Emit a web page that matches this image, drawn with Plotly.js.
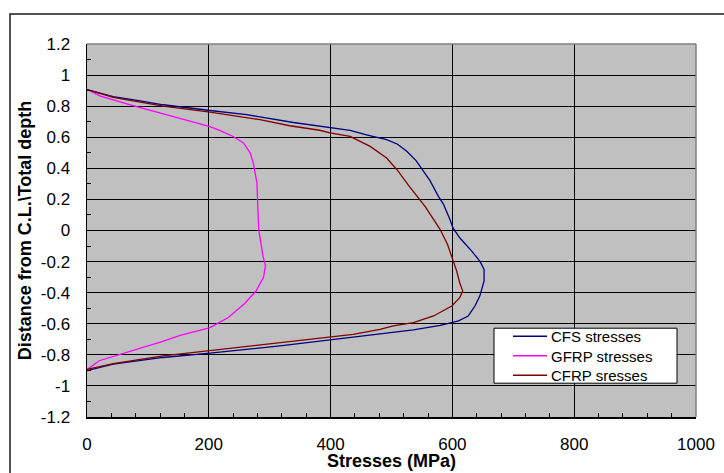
<!DOCTYPE html>
<html>
<head>
<meta charset="utf-8">
<script src="https://cdn.plot.ly/plotly-3.0.1.min.js"></script>
<style>
  html, body { margin: 0; padding: 0; background: #ffffff; }
  #chart { width: 724px; height: 473px; }
</style>
</head>
<body>
<div id="chart"></div>
<script>
// ---- Data ----
const seriesNames = ["CFS stresses", "GFRP stresses", "CFRP sresses"];

const cfsStress = [0, 43, 85, 125, 202, 262, 339, 399, 432, 459, 492, 510, 525, 540, 552, 563, 577, 585, 596, 601, 612, 631, 645, 652, 652, 645, 637, 626, 610, 599, 580, 536, 481, 399, 317, 202, 125, 43, 0];
const cfsDepth  = [0.907, 0.862, 0.835, 0.809, 0.772, 0.745, 0.695, 0.663, 0.644, 0.616, 0.584, 0.555, 0.51, 0.451, 0.385, 0.322, 0.22, 0.172, 0.071, 0.017, -0.047, -0.129, -0.197, -0.25, -0.325, -0.422, -0.486, -0.55, -0.582, -0.593, -0.61, -0.64, -0.667, -0.706, -0.743, -0.789, -0.817, -0.86, -0.902];

const gfrpStress = [0, 21, 71, 142, 202, 218, 240, 257, 268, 273, 279, 281, 282, 289, 293, 290, 278, 259, 251, 232, 202, 153, 123, 98, 55, 20, 0];
const gfrpDepth  = [0.909, 0.866, 0.809, 0.734, 0.669, 0.644, 0.605, 0.563, 0.499, 0.435, 0.306, 0.1, 0.006, -0.165, -0.226, -0.3, -0.387, -0.47, -0.496, -0.56, -0.625, -0.675, -0.715, -0.745, -0.795, -0.838, -0.895];

const cfrpStress = [0, 43, 125, 202, 284, 333, 382, 399, 432, 465, 492, 509, 528, 547, 556, 569, 580, 592, 600, 607, 612, 617, 612, 599, 569, 536, 503, 481, 437, 399, 317, 202, 125, 43, 0];
const cfrpDepth  = [0.907, 0.856, 0.8, 0.762, 0.713, 0.674, 0.645, 0.628, 0.606, 0.541, 0.466, 0.391, 0.29, 0.199, 0.15, 0.071, 0.006, -0.09, -0.186, -0.26, -0.336, -0.39, -0.432, -0.486, -0.55, -0.593, -0.614, -0.636, -0.668, -0.685, -0.721, -0.775, -0.807, -0.856, -0.894];

const seriesColors = ["#000080", "#ff00ff", "#800000"];

const xTickVals = [0, 200, 400, 600, 800, 1000];
const xTickText = ["0", "200", "400", "600", "800", "1000"];
const yTickVals = [1.2, 1, 0.8, 0.6, 0.4, 0.2, 0, -0.2, -0.4, -0.6, -0.8, -1, -1.2];
const yTickText = ["1.2", "1", "0.8", "0.6", "0.4", "0.2", "0", "-0.2", "-0.4", "-0.6", "-0.8", "-1", "-1.2"];

const xTitle = "Stresses (MPa)";
const yTitle = "Distance from C.L.\\Total depth";

// ---- Build chart ----
const FONT = '"Liberation Sans", Arial, sans-serif';
const xs = [cfsStress, gfrpStress, cfrpStress];
const ys = [cfsDepth, gfrpDepth, cfrpDepth];

const traces = seriesNames.map((name, i) => ({
  type: "scatter",
  mode: "lines",
  name: name,
  x: xs[i],
  y: ys[i],
  line: { color: seriesColors[i], width: 1.3 },
  showlegend: false,
  hoverinfo: "skip"
}));

// plot-area geometry (pixels) for paper coordinates
const W = 724, H = 473, L = 87, R = 28, T = 44, B = 56;
const PW = W - L - R, PH = H - T - B;
const px = v => (v - L) / PW;
const py = v => (H - B - v) / PH;

const LEG_FONT = 15;
const legLine = LEG_FONT * 1.3;
const legMid = 355.7;
const rowsY = [legMid - legLine, legMid, legMid + legLine];

const shapes = [
  // outer chart frame
  { type: "rect", xref: "paper", yref: "paper", x0: px(10), x1: px(740), y0: py(490), y1: py(14),
    line: { color: "#1a1a1a", width: 1.5 }, fillcolor: "rgba(0,0,0,0)", layer: "below" },
  // gray top and right plot borders
  { type: "line", xref: "paper", yref: "paper", x0: 0, x1: 1, y0: 1, y1: 1, line: { color: "#808080", width: 1.5 }, layer: "above" },
  { type: "line", xref: "paper", yref: "paper", x0: 1, x1: 1, y0: 0, y1: 1, line: { color: "#808080", width: 1.5 }, layer: "above" },
  // legend box
  { type: "rect", xref: "paper", yref: "paper", x0: px(494), x1: px(677), y0: py(rowsY[2] + 8), y1: py(rowsY[0] - 8),
    line: { color: "#000000", width: 1 }, fillcolor: "#ffffff", layer: "above" }
];
seriesNames.forEach((name, i) => {
  shapes.push({ type: "line", xref: "paper", yref: "paper", x0: px(513), x1: px(547), y0: py(rowsY[i]), y1: py(rowsY[i]),
    line: { color: seriesColors[i], width: 1.5 }, layer: "above" });
});
const annotations = [
  {
    xref: "paper", yref: "paper", x: px(550), y: py(legMid), xanchor: "left", yanchor: "middle", align: "left",
    text: seriesNames.join("<br>"), showarrow: false, borderpad: 0,
    font: { family: FONT, size: LEG_FONT, color: "#000" }
  },
  {
    xref: "paper", yref: "paper", x: 0.5, y: py(461), xanchor: "center", yanchor: "middle",
    text: xTitle, showarrow: false, borderpad: 0,
    font: { family: FONT, size: 18, weight: "bold", color: "#000" }
  }
];

const layout = {
  width: W, height: H,
  margin: { l: L, r: R, t: T, b: B, pad: 0 },
  paper_bgcolor: "#ffffff",
  plot_bgcolor: "#c0c0c0",
  font: { family: FONT, size: 17, color: "#000" },
  showlegend: false,
  xaxis: {
    range: [0, 1000],
    tickmode: "array", tickvals: xTickVals, ticktext: xTickText,
    ticks: "inside", ticklen: 4, tickcolor: "#000", tickwidth: 1,
    showgrid: true, gridcolor: "#000000", gridwidth: 1,
    zeroline: false, showline: true, linecolor: "#000000", linewidth: 1.5,
    ticklabelstandoff: 11,
    minor: { tickmode: "linear", tick0: 0, dtick: 40, ticks: "inside", ticklen: 4, tickcolor: "#000", showgrid: false }
  },
  yaxis: {
    range: [-1.2, 1.2],
    tickmode: "array", tickvals: yTickVals, ticktext: yTickText,
    ticks: "inside", ticklen: 4, tickcolor: "#000", tickwidth: 1,
    showgrid: true, gridcolor: "#000000", gridwidth: 1,
    zeroline: false, showline: true, linecolor: "#000000", linewidth: 1.5,
    ticklabelstandoff: 12,
    minor: { tickmode: "linear", tick0: 0, dtick: 0.1, ticks: "inside", ticklen: 4, tickcolor: "#000", showgrid: false },
    title: { text: yTitle, font: { family: FONT, size: 18, weight: "bold", color: "#000" }, standoff: 4 }
  },
  shapes: shapes,
  annotations: annotations
};

Plotly.newPlot("chart", traces, layout, { displayModeBar: false, staticPlot: true });
</script>
</body>
</html>
